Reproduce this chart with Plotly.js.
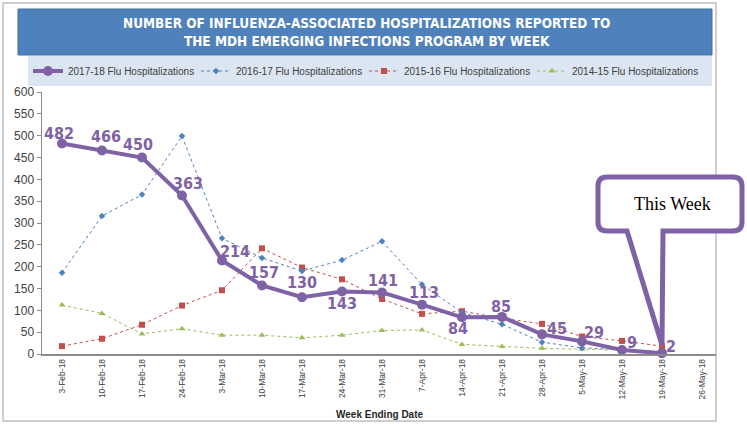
<!DOCTYPE html>
<html><head><meta charset="utf-8">
<script src="https://cdn.plot.ly/plotly-3.0.1.min.js"></script>
<style>html,body{margin:0;padding:0;background:#fff;} #chart{width:747px;height:424px;}</style>
</head><body><div id="chart"></div>
<script>
// ---- data ----
const weeks = ['3-Feb-18','10-Feb-18','17-Feb-18','24-Feb-18','3-Mar-18','10-Mar-18','17-Mar-18','24-Mar-18','31-Mar-18','7-Apr-18','14-Apr-18','21-Apr-18','28-Apr-18','5-May-18','12-May-18','19-May-18','26-May-18'];
const flu1718 = [482,466,450,363,214,157,130,143,141,113,84,85,45,29,9,2,null];
const flu1617 = [186,316,365,499,265,220,190,215,258,159,95,68,27,14,10,5,null];
const flu1516 = [18,35,67,111,146,242,198,171,126,92,98,82,69,40,30,18,null];
const flu1415 = [112,93,46,58,43,43,37,43,54,55,22,17,13,11,9,5,null];
const seriesNames = ['2017-18 Flu Hospitalizations','2016-17 Flu Hospitalizations','2015-16 Flu Hospitalizations','2014-15 Flu Hospitalizations'];
const yTicks = [0,50,100,150,200,250,300,350,400,450,500,550,600];
const titleLines = ['NUMBER OF INFLUENZA-ASSOCIATED HOSPITALIZATIONS REPORTED TO','THE MDH EMERGING INFECTIONS PROGRAM BY WEEK'];
const xTitle = 'Week Ending Date';
const calloutText = 'This Week';

// ---- style ----
const labelDx = [-3,4,-4,6,13,2,0,0,1,2,-4,-1,15,12,10,9];
const labelDy = [10.5,14,13.5,11.5,9.5,13,14.5,-12,11.5,12.5,-11.5,10,6,9,8,7];
const W=747,H=424,ml=42,mr=31,mt=92,mb=70;
const pw=W-ml-mr, ph=H-mt-mb;
const px=x=>(x-ml)/pw, py=y=>(H-mb-y)/ph;
const purple='#7F62A6', blue='#4F81BD', red='#C0504D', green='#9BBB59';
const narrow='"Liberation Sans Narrow", "DejaVu Sans Condensed", Arial, sans-serif';
const sans='"Liberation Sans", Arial, sans-serif';

const traces = [
  {x:weeks,y:flu1415,name:seriesNames[3],type:'scatter',mode:'lines+markers',legendrank:4,
   line:{color:green,width:1,dash:'dot'},marker:{symbol:'triangle-up',size:6,color:green},cliponaxis:false},
  {x:weeks,y:flu1516,name:seriesNames[2],type:'scatter',mode:'lines+markers',legendrank:3,
   line:{color:red,width:1,dash:'dot'},marker:{symbol:'square',size:6,color:red},cliponaxis:false},
  {x:weeks,y:flu1617,name:seriesNames[1],type:'scatter',mode:'lines+markers',legendrank:2,
   line:{color:blue,width:1,dash:'dot'},marker:{symbol:'diamond',size:5,color:blue},cliponaxis:false},
  {x:weeks,y:flu1718,name:seriesNames[0],type:'scatter',mode:'lines+markers',legendrank:1,
   line:{color:purple,width:4},marker:{symbol:'circle',size:10,color:purple},cliponaxis:false}
];

// data labels for 2017-18, placed on the data coordinates
const labelAnns = [];
flu1718.forEach((v,i)=>{
  if(v==null) return;
  labelAnns.push({x:weeks[i],y:v,xref:'x',yref:'y',text:String(v),showarrow:false,
    xshift:labelDx[i],yshift:labelDy[i],xanchor:'center',yanchor:'middle',
    font:{family:narrow,size:16,color:purple,weight:'bold'}});
});

// callout path (pixel -> paper)
const L=598,R=742,T=177,B=231,r=9,tipX=662,tipY=345,tailL=627,tailR=663;
const P=(x,y)=>px(x).toFixed(5)+','+py(y).toFixed(5);
const callout = 'M'+P(L+r,T)+' L'+P(R-r,T)+' Q'+P(R,T)+' '+P(R,T+r)+' L'+P(R,B-r)+' Q'+P(R,B)+' '+P(R-r,B)+
  ' L'+P(tailR,B)+' L'+P(tipX,tipY)+' L'+P(tailL,B)+' L'+P(L+r,B)+' Q'+P(L,B)+' '+P(L,B-r)+' L'+P(L,T+r)+' Q'+P(L,T)+' '+P(L+r,T)+' Z';

const layout = {
  width:W,height:H,margin:{l:ml,r:mr,t:mt,b:mb},
  paper_bgcolor:'#fff',plot_bgcolor:'rgba(0,0,0,0)',
  showlegend:true,
  legend:{orientation:'h',x:px(28),xanchor:'left',y:py(71),yanchor:'middle',bgcolor:'rgba(0,0,0,0)',
    font:{family:sans,size:10,color:'#404040'},entrywidth:123,entrywidthmode:'pixels',traceorder:'normal'},
  xaxis:{type:'category',range:[-0.5,16.35],showgrid:false,zeroline:false,showline:true,linecolor:'#8c8c8c',linewidth:1.5,
    ticks:'',tickangle:-90,tickfont:{family:sans,size:8.5,color:'#404040'},fixedrange:true},
  yaxis:{range:[0,600],tickvals:yTicks,showgrid:false,zeroline:false,showline:true,linecolor:'#8c8c8c',linewidth:1.5,
    ticks:'outside',ticklen:4,tickcolor:'#8c8c8c',tickfont:{family:sans,size:12,color:'#404040'},fixedrange:true},
  shapes:[
    {type:'rect',xref:'paper',yref:'paper',x0:px(3),x1:px(716),y0:py(421),y1:py(3),line:{color:'#bfbfbf',width:1.5},fillcolor:'rgba(0,0,0,0)',layer:'below'},
    {type:'rect',xref:'paper',yref:'paper',x0:px(18),x1:px(712),y0:py(55),y1:py(9),line:{color:'#41719C',width:1},fillcolor:'#4F81BD',layer:'below'},
    {type:'rect',xref:'paper',yref:'paper',x0:px(28),x1:px(712),y0:py(86),y1:py(56),line:{width:0},fillcolor:'#DCE6F2',layer:'below'},
    {type:'path',xref:'paper',yref:'paper',path:callout,line:{color:purple,width:5},fillcolor:'#fff',layer:'above'}
  ],
  annotations:labelAnns.concat([
    {xref:'paper',yref:'paper',x:px(366),y:py(32),text:titleLines.join('<br>'),showarrow:false,
     font:{family:narrow,size:13.5,color:'#fff',weight:'bold'},xanchor:'center',yanchor:'middle'},
    {xref:'paper',yref:'paper',x:px(379),y:py(415),text:'<b>'+xTitle+'</b>',showarrow:false,
     font:{family:sans,size:10,color:'#262626'},xanchor:'center',yanchor:'middle'},
    {xref:'paper',yref:'paper',x:px(672),y:py(204),text:calloutText,showarrow:false,
     font:{family:'"Liberation Serif", "DejaVu Serif", serif',size:18,color:'#000'},xanchor:'center',yanchor:'middle'}
  ])
};
Plotly.newPlot('chart',traces,layout,{displayModeBar:false,staticPlot:true});
</script></body></html>
